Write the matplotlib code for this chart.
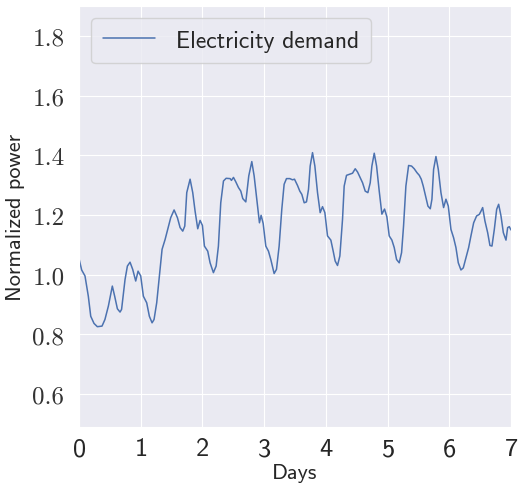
import matplotlib
matplotlib.use("Agg")
import matplotlib.pyplot as plt
import seaborn as sns
import numpy as np

# weekly electricity demand, normalized (time in days)
days = [0.0, 0.043, 0.097, 0.151, 0.19, 0.243, 0.297, 0.373, 0.42, 0.476,
        0.508, 0.54, 0.578, 0.622, 0.665, 0.69, 0.746, 0.784, 0.827, 0.87,
        0.919, 0.957, 1.0, 1.043, 1.097, 1.14, 1.184, 1.216, 1.259, 1.303,
        1.346, 1.395, 1.438, 1.486, 1.541, 1.595, 1.638, 1.681, 1.714, 1.746,
        1.8, 1.843, 1.881, 1.924, 1.962, 2.0, 2.032, 2.086, 2.124, 2.178,
        2.222, 2.259, 2.297, 2.341, 2.384, 2.449, 2.47, 2.503, 2.541, 2.584,
        2.622, 2.654, 2.703, 2.751, 2.8, 2.838, 2.881, 2.924, 2.951, 2.984,
        3.027, 3.07, 3.108, 3.162, 3.2, 3.243, 3.286, 3.324, 3.362, 3.416,
        3.459, 3.492, 3.541, 3.578, 3.611, 3.649, 3.686, 3.719, 3.746, 3.784,
        3.822, 3.865, 3.908, 3.946, 3.984, 4.027, 4.081, 4.119, 4.151, 4.189,
        4.227, 4.27, 4.297, 4.335, 4.378, 4.432, 4.476, 4.514, 4.557, 4.595,
        4.638, 4.681, 4.719, 4.746, 4.784, 4.822, 4.865, 4.908, 4.951, 4.989,
        5.027, 5.07, 5.108, 5.146, 5.189, 5.227, 5.259, 5.297, 5.341, 5.389,
        5.432, 5.476, 5.514, 5.546, 5.578, 5.622, 5.654, 5.692, 5.719, 5.746,
        5.784, 5.822, 5.865, 5.908, 5.946, 5.984, 6.027, 6.07, 6.108, 6.146,
        6.189, 6.227, 6.27, 6.314, 6.351, 6.395, 6.443, 6.486, 6.514, 6.541,
        6.578, 6.622, 6.659, 6.692, 6.73, 6.768, 6.8, 6.838, 6.876, 6.919,
        6.946, 6.973, 7.0]
demand = [1.054, 1.016, 0.996, 0.928, 0.861, 0.837, 0.826, 0.828, 0.85, 0.895,
          0.928, 0.962, 0.928, 0.886, 0.875, 0.884, 0.984, 1.029, 1.042, 1.018,
          0.979, 1.012, 0.996, 0.928, 0.906, 0.861, 0.839, 0.85, 0.906, 0.996,
          1.085, 1.118, 1.152, 1.191, 1.217, 1.191, 1.158, 1.146, 1.163, 1.275,
          1.32, 1.275, 1.213, 1.154, 1.182, 1.165, 1.096, 1.079, 1.04, 1.007,
          1.029, 1.096, 1.241, 1.314, 1.323, 1.322, 1.316, 1.326, 1.311, 1.292,
          1.28, 1.255, 1.244, 1.331, 1.379, 1.331, 1.253, 1.174, 1.199, 1.172,
          1.096, 1.079, 1.051, 1.004, 1.018, 1.096, 1.219, 1.303, 1.322, 1.322,
          1.318, 1.32, 1.299, 1.28, 1.269, 1.241, 1.244, 1.286, 1.364, 1.409,
          1.364, 1.275, 1.208, 1.228, 1.208, 1.13, 1.116, 1.079, 1.046, 1.031,
          1.063, 1.185, 1.297, 1.333, 1.336, 1.34, 1.355, 1.344, 1.325, 1.308,
          1.28, 1.275, 1.308, 1.364, 1.407, 1.364, 1.28, 1.203, 1.22, 1.194,
          1.13, 1.116, 1.091, 1.051, 1.04, 1.074, 1.163, 1.297, 1.366, 1.364,
          1.355, 1.342, 1.333, 1.32, 1.297, 1.258, 1.23, 1.221, 1.253, 1.353,
          1.396, 1.353, 1.275, 1.225, 1.253, 1.23, 1.152, 1.124, 1.091, 1.04,
          1.016, 1.023, 1.057, 1.091, 1.13, 1.174, 1.197, 1.202, 1.213, 1.225,
          1.18, 1.141, 1.098, 1.096, 1.152, 1.219, 1.236, 1.197, 1.141, 1.116,
          1.158, 1.161, 1.15]

sns.set_style("darkgrid")
plt.rcParams["font.family"] = ["cmss10", "DejaVu Sans"]
plt.rcParams["axes.formatter.use_mathtext"] = True

fig = plt.figure(figsize=(5.32, 4.85), dpi=100)
ax = fig.add_axes([0.1485, 0.1175, 0.812, 0.868])

ax.plot(days, demand, color="#4c72b0", linewidth=1.1, label="Electricity demand")

ax.set_xlim(0, 7)
ax.set_ylim(0.49, 1.9)
ax.set_xticks(np.arange(0, 8, 1))
ax.set_yticks([0.6, 0.8, 1.0, 1.2, 1.4, 1.6, 1.8])
ax.set_yticklabels(["0.6", "0.8", "1.0", "1.2", "1.4", "1.6", "1.8"],
                   fontfamily="cmr10")
ax.tick_params(axis="x", labelsize=19, pad=4, labelcolor="#262626")
ax.tick_params(axis="y", labelsize=18, pad=7, labelcolor="#333333")

ax.set_xlabel("Days", fontsize=16, labelpad=2)
ax.set_ylabel("Normalized power", fontsize=16, labelpad=5)

ax.legend(loc="upper left", fontsize=17, handlelength=2.2, handletextpad=0.9,
          borderpad=0.5, frameon=True)

fig.savefig("out.png", dpi=100)
